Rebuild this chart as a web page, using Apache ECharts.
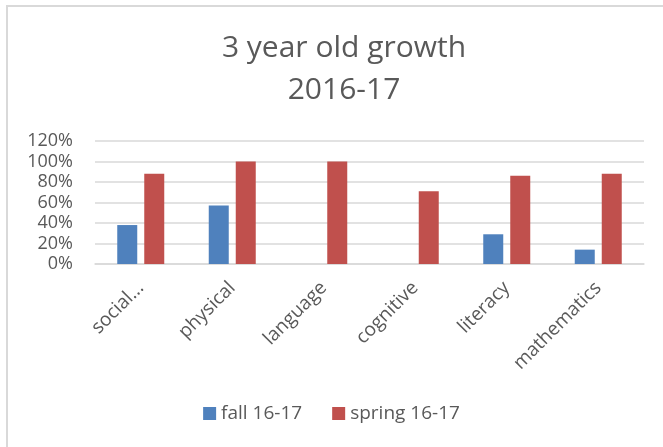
<!DOCTYPE html>
<html>
<head>
<meta charset="utf-8">
<script src="https://cdn.jsdelivr.net/npm/echarts@6/dist/echarts.min.js"></script>
<style>
  html, body { margin: 0; padding: 0; background: #fff; }
  #chart { width: 663px; height: 447px; }
</style>
</head>
<body>
<div id="chart"></div>
<script>
const categories = ['social...', 'physical', 'language', 'cognitive', 'literacy', 'mathematics'];
const fall = [38, 57, 0, 0, 29, 14];
const spring = [88, 100, 100, 71, 86, 88];
const seriesNames = ['fall 16-17', 'spring 16-17'];

const textColor = '#595959';
const font = '"Open Sans", "Noto Sans", sans-serif';

const chart = echarts.init(document.getElementById('chart'));
chart.setOption({
  backgroundColor: '#fff',
  animation: false,
  graphic: [{
    type: 'rect',
    shape: { x: 7, y: 6, width: 700, height: 500 },
    style: { fill: 'none', stroke: '#d9d9d9', lineWidth: 2 },
    silent: true
  }],
  title: {
    text: '3 year old growth\n2016-17',
    left: 339,
    textAlign: 'center',
    top: 22,
    textStyle: { color: textColor, fontFamily: font, fontSize: 30, fontWeight: 'normal', lineHeight: 42 }
  },
  legend: {
    data: seriesNames,
    bottom: 19,
    left: 'center',
    itemWidth: 13,
    itemHeight: 13,
    itemGap: 30,
    icon: 'rect',
    textStyle: { color: textColor, fontFamily: font, fontSize: 19 }
  },
  grid: { left: 95, right: 19, top: 141, bottom: 183, containLabel: false },
  xAxis: {
    type: 'category',
    data: categories,
    axisLine: { lineStyle: { color: '#d9d9d9', width: 1.5 } },
    axisTick: { show: false },
    axisLabel: { color: textColor, fontFamily: font, fontSize: 19, rotate: 45, margin: 21, interval: 0 }
  },
  yAxis: {
    type: 'value',
    min: 0,
    max: 120,
    interval: 20,
    axisLine: { show: false },
    axisTick: { show: false },
    splitLine: { lineStyle: { color: '#d9d9d9', width: 1.5 } },
    axisLabel: { color: textColor, fontFamily: font, fontSize: 18, margin: 22, formatter: '{value}%' }
  },
  series: [
    {
      name: seriesNames[0], type: 'bar', data: fall, barWidth: 20, barGap: '35%',
      itemStyle: { color: '#4f81bd' }
    },
    {
      name: seriesNames[1], type: 'bar', data: spring, barWidth: 20,
      itemStyle: { color: '#c0504d' }
    }
  ]
});
</script>
</body>
</html>
